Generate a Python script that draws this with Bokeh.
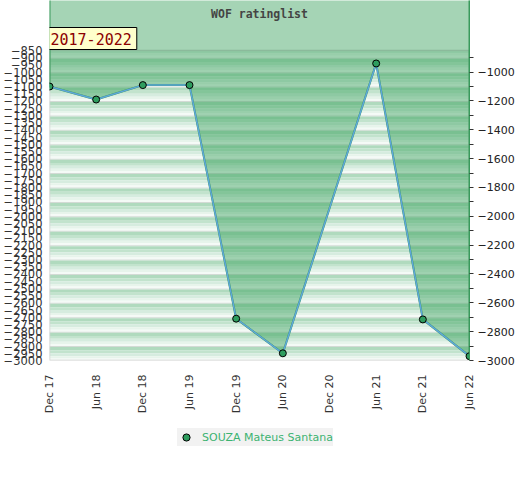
from bokeh.plotting import figure
from bokeh.layouts import column
from bokeh.models import (Range1d, FixedTicker, LinearAxis, Label, Legend, LegendItem)
from bokeh.embed import file_html
from bokeh.resources import INLINE

# ---- data ----
months = ["Dec 17", "Jun 18", "Dec 18", "Jun 19", "Dec 19", "Jun 20",
          "Dec 20", "Jun 21", "Dec 21", "Jun 22"]
rating = [-1100, -1190, -1090, -1090, -2710, -2950, None, -940, -2715, -2970]
left_ticks = list(range(-850, -3001, -50))
right_ticks = list(range(-1000, -3001, -200))
right_minor = list(range(-900, -3001, -200))
player = "SOUZA Mateus Santana"
title_text = "WOF ratinglist"
period = "2017-2022"

Y_MIN, Y_MAXP = -3000, -850
FRAME_H = 360
PLOT_TOP_PX = 50
Y_TOP = Y_MAXP + PLOT_TOP_PX * (Y_MAXP - Y_MIN) / (FRAME_H - PLOT_TOP_PX)

xs = [i for i, v in enumerate(rating) if v is not None]
ys = [v for v in rating if v is not None]

p = figure(frame_width=420, frame_height=FRAME_H, output_backend="svg", toolbar_location=None,
           x_range=Range1d(0, len(months) - 1), y_range=Range1d(Y_MIN, Y_TOP),
           min_border_left=0, min_border_right=0, min_border_top=0,
           min_border_bottom=56, y_axis_location=None)
p.xgrid.visible = False
p.ygrid.visible = False
p.outline_line_color = None
p.background_fill_color = "white"

# striped background
shades = [(0.00, 0.07, "#d3dad5"), (0.07, 0.30, "#b0dabe"), (0.30, 0.50, "#c2e3cd"),
          (0.50, 0.70, "#d6ecdf"), (0.70, 0.86, "#e7f4eb"), (0.86, 1.00, "#f4faf6")]
bt, bb, bc = [], [], []
for top in range(-800, Y_MIN, -100):
    for f1, f2, c in shades:
        t = min(top - f1 * 100, Y_MAXP)
        b = max(top - f2 * 100, Y_MIN)
        if t > b:
            bt.append(t); bb.append(b); bc.append(c)
p.quad(left=0, right=len(months) - 1, top=bt, bottom=bb, fill_color=bc, line_color=None)
p.quad(left=[0], right=[len(months) - 1], top=[Y_MAXP], bottom=[Y_MIN],
       fill_color=None, line_color="#d0d0d0", line_width=1.5)

# area above the line
px = [xs[0]] + xs + [xs[-1]]
py = [Y_TOP + 200] + ys + [Y_TOP + 200]
p.patch(px, py, fill_color="#379f5a", fill_alpha=0.45, line_color="#3a9a5c", line_width=2)

p.line(xs, ys, line_color="#5fa6dc", line_width=1.5)
sc = p.scatter(xs, ys, size=7, fill_color="#2e9d5e", line_color="black", line_width=1)

# axes
xa = p.xaxis[0]
xa.ticker = FixedTicker(ticks=list(range(len(months))))
xa.major_label_overrides = {i: m for i, m in enumerate(months)}
xa.major_label_orientation = 1.5707963
xa.major_label_text_font = "DejaVu Sans"
xa.major_label_text_font_size = "11px"
xa.major_label_text_color = "#333333"
xa.major_tick_line_color = None
xa.minor_tick_line_color = None
xa.axis_line_color = None
xa.major_label_standoff = 8

la = LinearAxis(ticker=FixedTicker(ticks=left_ticks))
la.major_label_text_font = "DejaVu Sans"
la.major_label_text_font_size = "11.5px"
la.major_label_text_color = "#333333"
la.major_tick_line_color = None
la.minor_tick_line_color = None
la.axis_line_color = None
la.major_label_standoff = 1
p.add_layout(la, "left")

ra = LinearAxis(ticker=FixedTicker(ticks=right_ticks, minor_ticks=right_minor))
ra.major_label_text_font = "DejaVu Sans"
ra.major_label_text_font_size = "11px"
ra.major_label_text_color = "#222222"
ra.major_tick_in = 0
ra.major_tick_out = 4
ra.minor_tick_in = 0
ra.minor_tick_out = 4
ra.major_tick_line_color = "#333333"
ra.minor_tick_line_color = "#333333"
ra.axis_line_color = "#3a9a5c"
ra.major_label_standoff = 4
p.add_layout(ra, "right")

# title and period box
p.add_layout(Label(x=(len(months) - 1) / 2, y=Y_MAXP, y_offset=37, text=title_text,
                   text_font="DejaVu Sans Mono", text_font_style="bold",
                   text_font_size="11.5px", text_color="#444444",
                   text_align="center", text_baseline="middle"))
p.add_layout(Label(x=0, y=Y_MAXP, x_offset=-4, y_offset=1, text=period,
                   text_font="DejaVu Sans Mono", text_font_size="15px",
                   text_color="#8b0000", text_baseline="bottom", text_align="left",
                   background_fill_color="#ffffcc", border_line_color="black",
                   padding=5))

# legend in a small companion figure below the chart
lf = figure(width=500, height=48, output_backend="svg", toolbar_location=None,
            min_border=0, outline_line_color=None,
            x_range=Range1d(0, 1), y_range=Range1d(0, 1))
lf.axis.visible = False
lf.grid.visible = False
lr = lf.scatter(xs[:1], ys[:1], size=7, fill_color="#2e9d5e", line_color="black",
                line_width=1)
legend = Legend(items=[LegendItem(label=player, renderers=[lr])], location=(128, 18),
                orientation="horizontal", background_fill_color="#f2f2f2",
                background_fill_alpha=1.0,
                border_line_color=None, label_text_color="#3cb371",
                label_text_font="DejaVu Sans", label_text_font_size="11px",
                glyph_width=18, glyph_height=18, label_height=10, padding=0,
                label_standoff=7, margin=0)
lf.add_layout(legend, "center")

open("out.html", "w").write(file_html(column(p, lf, spacing=0), INLINE))
